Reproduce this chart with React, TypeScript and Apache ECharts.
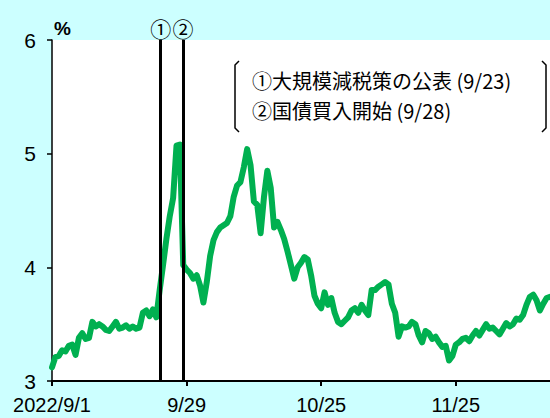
import { useEffect, useRef } from 'react';
import * as echarts from 'echarts';

// x axis: sample index (2 samples per weekday), ticks every 40 samples
const tickIndex = [0, 40, 80, 120];
const tickLabels = ['2022/9/1', '9/29', '10/25', '11/25'];

// 30-year gilt yield (%)
const yields = [
  3.12, 3.21, 3.22, 3.27, 3.26, 3.31, 3.32, 3.23, 3.38, 3.42,
  3.37, 3.38, 3.52, 3.48, 3.50, 3.48, 3.45, 3.44, 3.48, 3.52,
  3.46, 3.47, 3.49, 3.46, 3.48, 3.46, 3.47, 3.60, 3.62, 3.57,
  3.63, 3.56, 3.80, 4.02, 4.25, 4.45, 4.61, 5.07, 5.08, 4.02,
  3.98, 3.95, 3.90, 3.93, 3.84, 3.69, 3.87, 4.10, 4.24, 4.31,
  4.35, 4.37, 4.39, 4.45, 4.62, 4.72, 4.75, 4.88, 5.04, 4.90,
  4.58, 4.55, 4.30, 4.62, 4.85, 4.70, 4.35, 4.40, 4.33, 4.25,
  4.14, 4.02, 3.90, 4.00, 4.04, 4.09, 4.07, 3.93, 3.75, 3.68,
  3.64, 3.78, 3.67, 3.73, 3.60, 3.52, 3.50, 3.53, 3.56, 3.62,
  3.64, 3.60, 3.67, 3.62, 3.58, 3.80, 3.80, 3.83, 3.85, 3.87,
  3.85, 3.68, 3.60, 3.39, 3.48, 3.47, 3.48, 3.52, 3.50, 3.40,
  3.34, 3.44, 3.42, 3.37, 3.39, 3.34, 3.30, 3.31, 3.18, 3.22,
  3.32, 3.34, 3.37, 3.38, 3.35, 3.40, 3.44, 3.40, 3.45, 3.50,
  3.46, 3.47, 3.44, 3.41, 3.46, 3.51, 3.48, 3.50, 3.55, 3.54,
  3.58, 3.67, 3.74, 3.76, 3.71, 3.62, 3.68, 3.73, 3.74,
];

const eventLabels = ['①', '②'];
const eventIndex = [32.3, 38.9];
const notes = ['①大規模減税策の公表 (9/23)', '②国債買入開始 (9/28)'];

const FONT = '"Noto Sans CJK JP", "Noto Sans", sans-serif';
const NUM_FONT = '"Liberation Sans", Arial, sans-serif';

export default function App() {
  const ref = useRef<HTMLDivElement>(null);
  useEffect(() => {
    if (!ref.current) return;
    const chart = echarts.init(ref.current, null, { renderer: 'svg' });
    chart.setOption({
      animation: false,
      backgroundColor: '#CCFFFF',
      grid: {
        left: 52,
        right: 0,
        top: 40,
        bottom: 37,
        show: true,
        backgroundColor: '#FFFFFF',
        borderWidth: 0,
      },
      xAxis: {
        type: 'value',
        min: 0,
        max: yields.length - 1,
        axisLine: { show: true, lineStyle: { color: '#000', width: 2 } },
        axisTick: {
          show: true,
          length: 5,
          lineStyle: { color: '#000', width: 2 },
          customValues: tickIndex,
        },
        axisLabel: {
          customValues: tickIndex,
          formatter: (v: number) => {
            const k = tickIndex.indexOf(Math.round(v));
            return k >= 0 ? tickLabels[k] : '';
          },
          color: '#000',
          fontSize: 20,
          fontFamily: NUM_FONT,
          margin: 14,
        },
        splitLine: { show: false },
      },
      yAxis: {
        type: 'value',
        min: 3,
        max: 6,
        interval: 1,
        name: '%',
        nameLocation: 'end',
        nameGap: 2,
        nameTextStyle: {
          align: 'left',
          color: '#000',
          fontSize: 19,
          fontWeight: 'bold',
          fontFamily: NUM_FONT,
          padding: [0, 0, 0, 2],
        },
        axisLine: { show: true, lineStyle: { color: '#000', width: 1.5 } },
        axisTick: { show: true, length: 5, lineStyle: { color: '#000', width: 1.5 } },
        axisLabel: {
          color: '#000',
          fontSize: 21,
          fontFamily: NUM_FONT,
          margin: 16,
        },
        splitLine: { show: false },
      },
      series: [
        {
          type: 'line',
          data: yields.map((v, i) => [i, v]),
          showSymbol: false,
          symbol: 'none',
          lineStyle: { color: '#00B050', width: 6, join: 'round', cap: 'round' },
          z: 2,
          markLine: {
            silent: true,
            symbol: ['none', 'none'],
            lineStyle: { color: '#000', width: 3, type: 'solid' },
            label: {
              show: true,
              position: 'end',
              distance: 2,
              color: '#000',
              fontSize: 21,
              fontFamily: FONT,
            },
            data: eventIndex.map((x, k) => ({
              xAxis: x,
              label: { formatter: eventLabels[k] },
            })),
          },
        },
      ],
      graphic: [
        {
          type: 'polyline',
          shape: { points: [[239, 61], [235, 65], [235, 128], [239, 132]] },
          style: { stroke: '#000', lineWidth: 1.5, fill: null },
        },
        {
          type: 'polyline',
          shape: { points: [[542, 61], [546, 65], [546, 128], [542, 132]] },
          style: { stroke: '#000', lineWidth: 1.5, fill: null },
        },
        {
          type: 'text',
          x: 252,
          y: 80.5,
          style: {
            text: notes[0],
            fill: '#000',
            fontSize: 20,
            fontFamily: FONT,
            align: 'left',
            verticalAlign: 'middle',
          },
        },
        {
          type: 'text',
          x: 252,
          y: 110,
          style: {
            text: notes[1],
            fill: '#000',
            fontSize: 20,
            fontFamily: FONT,
            align: 'left',
            verticalAlign: 'middle',
          },
        },
      ],
    });
    return () => chart.dispose();
  }, []);
  return (
    <div
      ref={ref}
      style={{ position: 'fixed', left: 0, top: 0, width: 550, height: 418 }}
    />
  );
}
